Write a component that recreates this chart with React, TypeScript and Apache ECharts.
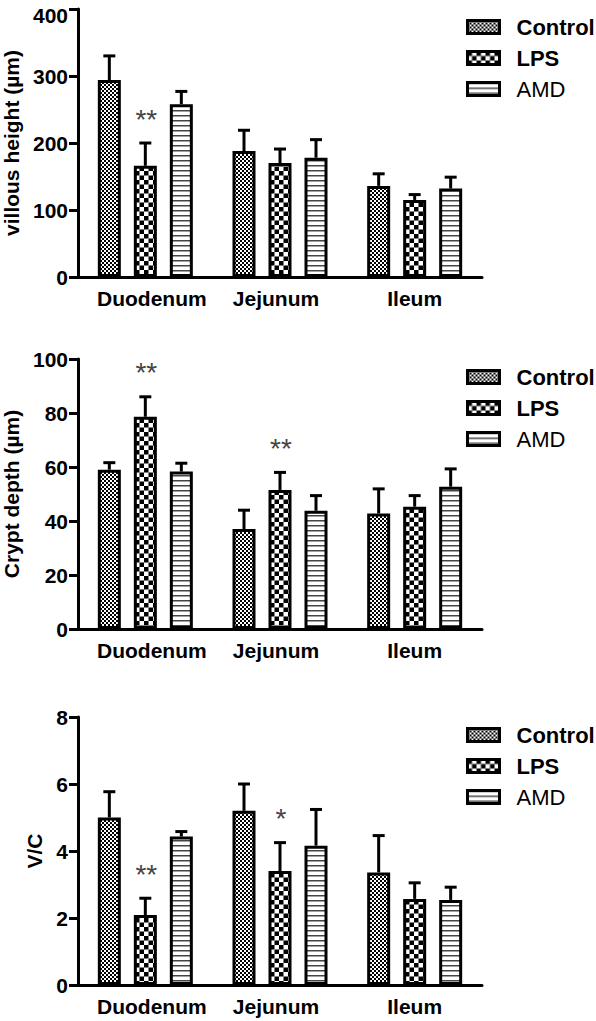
import React, { useEffect, useRef } from 'react';
import * as echarts from 'echarts';

// ---------- data ----------
const categories = ['Duodenum', 'Jejunum', 'Ileum'];
const groups = ['Control', 'LPS', 'AMD'];

// Panel 1: villous height (µm)
const villousControl = [294, 188, 136];
const villousControlSd = [36, 31, 18];
const villousLPS = [166, 170, 115];
const villousLPSSd = [34, 21, 8];
const villousAMD = [258, 178, 132];
const villousAMDSd = [19, 27, 17];
const villousLPSSig = ['**', '', ''];
const villousTicks = { min: 0, max: 400, interval: 100 };

// Panel 2: crypt depth (µm)
const cryptControl = [59, 37, 42.8];
const cryptControlSd = [2.6, 7, 9.1];
const cryptLPS = [78.6, 51.5, 45.3];
const cryptLPSSd = [7.4, 6.5, 4.1];
const cryptAMD = [58.3, 43.8, 52.7];
const cryptAMDSd = [3.1, 5.6, 6.6];
const cryptLPSSig = ['**', '**', ''];
const cryptTicks = { min: 0, max: 100, interval: 20 };

// Panel 3: V/C
const vcControl = [5.0, 5.2, 3.36];
const vcControlSd = [0.77, 0.8, 1.1];
const vcLPS = [2.09, 3.4, 2.57];
const vcLPSSd = [0.5, 0.85, 0.48];
const vcAMD = [4.43, 4.16, 2.54];
const vcAMDSd = [0.15, 1.08, 0.38];
const vcLPSSig = ['**', '*', ''];
const vcTicks = { min: 0, max: 8, interval: 2 };

// ---------- styles ----------
const FONT = '"Liberation Sans", Arial, sans-serif';
const BAR_W = 23;
const BAR_GAP_PX = 13;
const LINE_W = 3;
const LABEL_KEYS = ['d', 'j', 'i'];

function makePattern(kind: string) {
  const c = document.createElement('canvas');
  let w = 4;
  let h = 4;
  if (kind === 'coarse') { w = 9; h = 9; }
  if (kind === 'lines') { w = 4; h = 5; }
  c.width = w;
  c.height = h;
  const ctx = c.getContext('2d')!;
  ctx.fillStyle = '#ffffff';
  ctx.fillRect(0, 0, w, h);
  if (kind === 'fine') {
    ctx.fillStyle = '#000000';
    ctx.fillRect(0, 0, 2, 2);
    ctx.fillRect(2, 2, 2, 2);
  } else if (kind === 'coarse') {
    ctx.fillStyle = '#000000';
    ctx.fillRect(0, 0, 4.5, 4.5);
    ctx.fillRect(4.5, 4.5, 4.5, 4.5);
  } else {
    ctx.fillStyle = '#444444';
    ctx.fillRect(0, 0, 4, 1.5);
  }
  return { image: c, repeat: 'repeat', imageWidth: w, imageHeight: h } as any;
}

export default function App() {
  const ref = useRef<HTMLDivElement>(null);

  useEffect(() => {
    if (!ref.current) return;
    const chart = echarts.init(ref.current, undefined, { renderer: 'svg' });

    const patterns = [makePattern('fine'), makePattern('coarse'), makePattern('lines')];

    const panels = [
      {
        title: 'villous height (µm)', nameGap: 54, ticks: villousTicks, shiftTop: true,
        means: [villousControl, villousLPS, villousAMD],
        sds: [villousControlSd, villousLPSSd, villousAMDSd],
        sigs: [null, villousLPSSig, null],
        grid: { left: 78, top: 9, width: 404, height: 268 },
        legendTop: 16,
      },
      {
        title: 'Crypt depth (µm)', nameGap: 54, ticks: cryptTicks, shiftTop: false,
        means: [cryptControl, cryptLPS, cryptAMD],
        sds: [cryptControlSd, cryptLPSSd, cryptAMDSd],
        sigs: [null, cryptLPSSig, null],
        grid: { left: 78, top: 359, width: 404, height: 270 },
        legendTop: 366,
      },
      {
        title: 'V/C', nameGap: 32, ticks: vcTicks, shiftTop: false,
        means: [vcControl, vcLPS, vcAMD],
        sds: [vcControlSd, vcLPSSd, vcAMDSd],
        sigs: [null, vcLPSSig, null],
        grid: { left: 78, top: 717, width: 404, height: 268 },
        legendTop: 724,
      },
    ];

    const labelRich = {
      d: { fontFamily: FONT, fontSize: 21, fontWeight: 'bold', color: '#000', padding: [0, 0, 0, 13] },
      j: { fontFamily: FONT, fontSize: 21, fontWeight: 'bold', color: '#000', padding: [0, 8, 0, 0] },
      i: { fontFamily: FONT, fontSize: 21, fontWeight: 'bold', color: '#000' },
    };

    const grids: any[] = [];
    const xAxes: any[] = [];
    const yAxes: any[] = [];
    const legends: any[] = [];
    const series: any[] = [];

    panels.forEach((p, pi) => {
      grids.push({ ...p.grid, containLabel: false, outerBoundsMode: 'none' });
      xAxes.push({
        type: 'category',
        gridIndex: pi,
        data: categories,
        axisLine: { lineStyle: { color: '#000', width: LINE_W } },
        axisTick: { alignWithLabel: true, interval: 0, length: 8, lineStyle: { color: '#000', width: LINE_W } },
        axisLabel: {
          interval: 0,
          hideOverlap: false,
          color: '#000',
          fontFamily: FONT,
          fontSize: 21,
          fontWeight: 'bold',
          margin: 11,
          formatter: (v: string, i: number) => `{${LABEL_KEYS[i]}|${v}}`,
          rich: labelRich,
        },
        splitLine: { show: false },
      });
      yAxes.push({
        type: 'value',
        gridIndex: pi,
        min: p.ticks.min,
        max: p.ticks.max,
        interval: p.ticks.interval,
        name: p.title,
        nameLocation: 'middle',
        nameGap: p.nameGap,
        nameTextStyle: { color: '#000', fontFamily: FONT, fontSize: 21, fontWeight: 'bold' },
        axisLine: { show: true, lineStyle: { color: '#000', width: LINE_W } },
        axisTick: { show: true, length: 9, lineStyle: { color: '#000', width: LINE_W } },
        axisLabel: {
          color: '#000',
          fontFamily: FONT,
          fontSize: 21,
          fontWeight: 'bold',
          margin: 10,
          formatter: (v: number) => (p.shiftTop && v === p.ticks.max ? `{t|${v}}` : `${v}`),
          rich: {
            t: { fontFamily: FONT, fontSize: 21, fontWeight: 'bold', color: '#000', padding: [13, 0, 0, 0] },
          },
        },
        splitLine: { show: false },
      });
      legends.push({
        data: groups,
        orient: 'vertical',
        left: 466,
        top: p.legendTop,
        padding: 0,
        icon: 'rect',
        itemWidth: 32,
        itemHeight: 13,
        itemGap: 9,
        selectedMode: false,
        itemStyle: { borderColor: '#000', borderWidth: 3 },
        formatter: (name: string) => (name === 'AMD' ? `{n|${name}}` : `{b|${name}}`),
        textStyle: {
          padding: [0, 0, 0, 12],
          rich: {
            b: { fontFamily: FONT, fontSize: 22, fontWeight: 'bold', color: '#000', lineHeight: 24 },
            n: { fontFamily: FONT, fontSize: 22, fontWeight: 'normal', color: '#000', lineHeight: 24 },
          },
        },
      });

      groups.forEach((g, gi) => {
        series.push({
          type: 'bar',
          name: g,
          xAxisIndex: pi,
          yAxisIndex: pi,
          data: p.means[gi],
          barWidth: BAR_W,
          barGap: `${(BAR_GAP_PX / BAR_W) * 100}%`,
          itemStyle: { color: patterns[gi], borderColor: '#000', borderWidth: LINE_W },
          emphasis: { disabled: true },
        });
      });

      groups.forEach((g, gi) => {
        const offset = (gi - 1) * (BAR_W + BAR_GAP_PX);
        const sig = p.sigs[gi];
        series.push({
          type: 'custom',
          name: `${g} SD`,
          xAxisIndex: pi,
          yAxisIndex: pi,
          z: 5,
          encode: { x: 0, y: 1 },
          data: categories.map((_, ci) => [ci, p.means[gi][ci], p.sds[gi][ci]]),
          renderItem: (params: any, api: any) => {
            const ci = api.value(0);
            const mean = api.value(1);
            const sd = api.value(2);
            const base = api.coord([ci, mean]);
            const top = api.coord([ci, mean + sd]);
            const x = base[0] + offset;
            const children: any[] = [
              { type: 'line', shape: { x1: x, y1: base[1], x2: x, y2: top[1] }, style: { stroke: '#000', lineWidth: LINE_W } },
              { type: 'line', shape: { x1: x - 6, y1: top[1], x2: x + 6, y2: top[1] }, style: { stroke: '#000', lineWidth: LINE_W } },
            ];
            const s = sig ? sig[params.dataIndex] : '';
            if (s) {
              children.push({
                type: 'text',
                x: x + 1,
                y: top[1] - 24,
                style: {
                  text: s,
                  fontFamily: FONT,
                  fontSize: 28,
                  fill: '#444',
                  align: 'center',
                  verticalAlign: 'middle',
                },
              });
            }
            return { type: 'group', children };
          },
        });
      });
    });

    chart.setOption({
      animation: false,
      backgroundColor: '#fff',
      grid: grids,
      xAxis: xAxes,
      yAxis: yAxes,
      legend: legends,
      series,
    });

    return () => chart.dispose();
  }, []);

  return (
    <div
      ref={ref}
      style={{ position: 'fixed', left: 0, top: 0, width: 596, height: 1021, background: '#fff' }}
    />
  );
}
